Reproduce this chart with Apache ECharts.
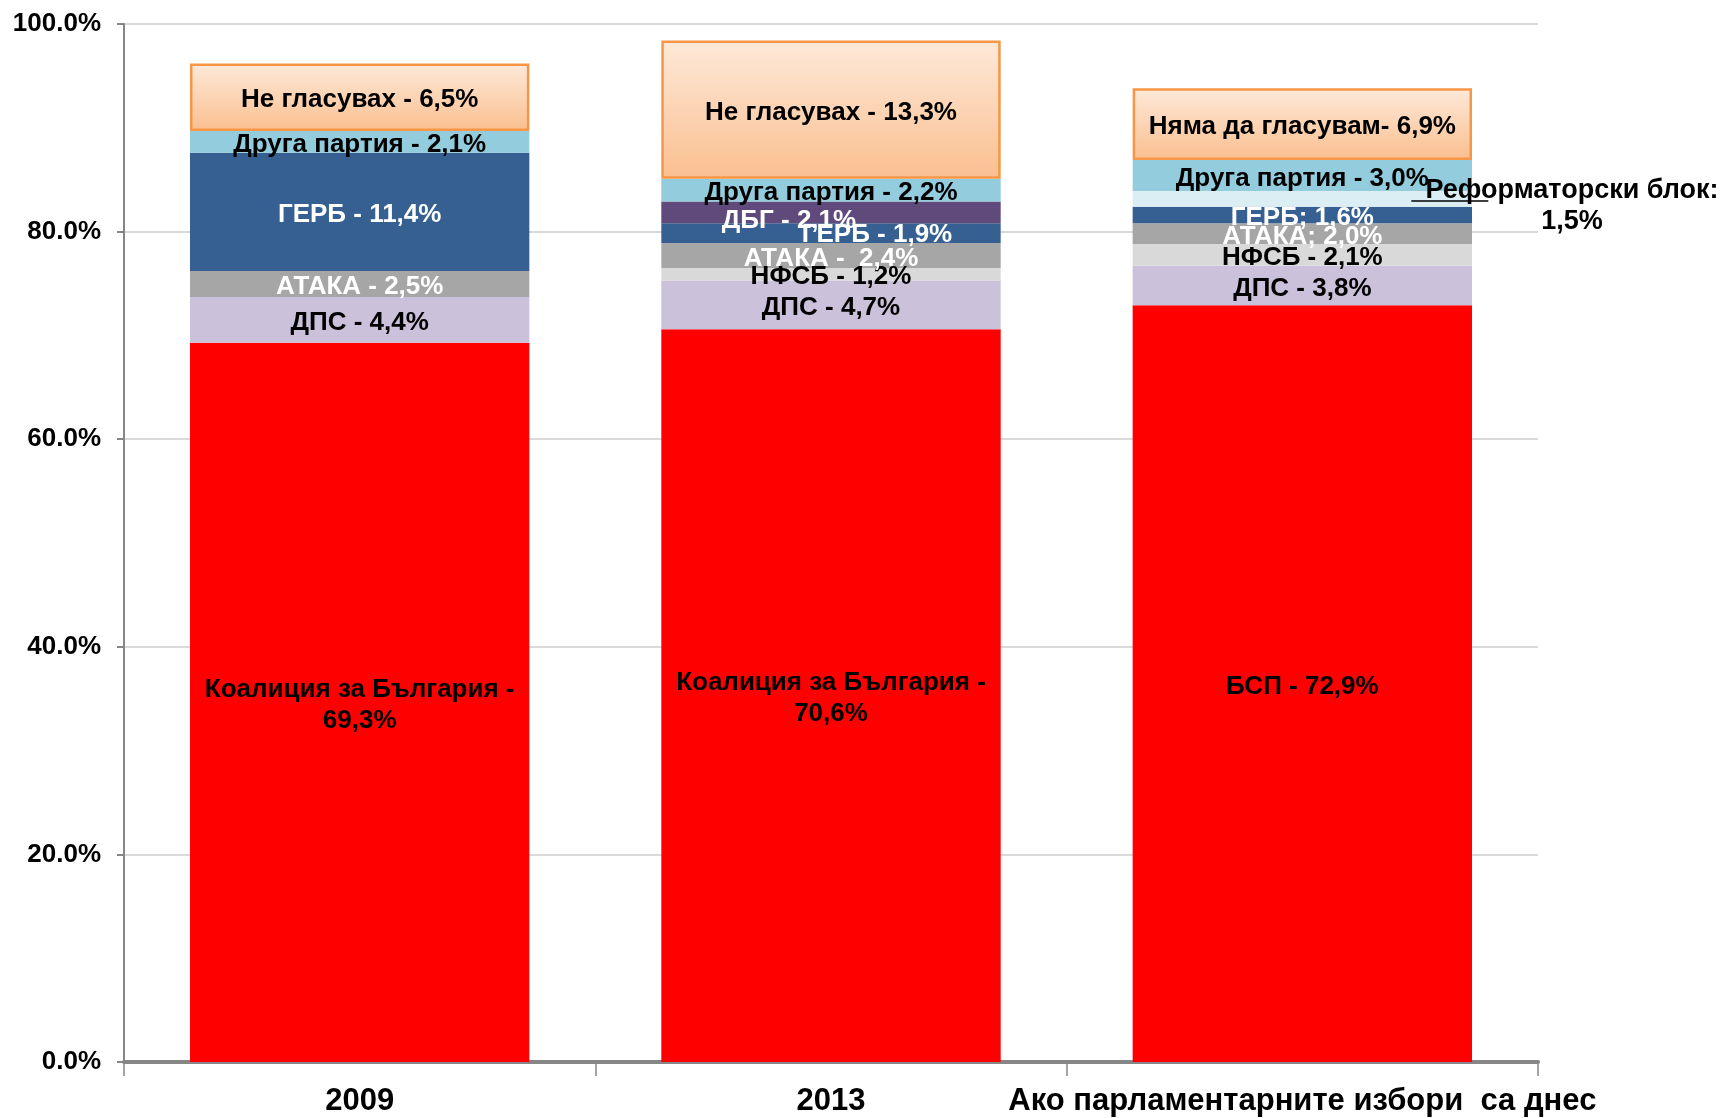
<!DOCTYPE html>
<html>
<head>
<meta charset="utf-8">
<script src="https://cdn.jsdelivr.net/npm/echarts@6/dist/echarts.min.js"></script>
<style>
  html, body { margin: 0; padding: 0; background: #ffffff; }
  #main { width: 1723px; height: 1118px; }
</style>
</head>
<body>
<div id="main"></div>
<script>
var categories = ['2009', '2013', 'Ако парламентарните избори  са днес'];
var yTicks = [0, 20, 40, 60, 80, 100];

// segments, bottom to top
var mainParty = [69.3, 70.6, 72.9];
var dps = [4.4, 4.7, 3.8];
var nfsb = ['-', 1.2, 2.1];
var ataka = [2.5, 2.4, 2.0];
var gerb = [11.4, 1.9, 1.6];
var dbg = ['-', 2.1, '-'];
var reform = ['-', '-', 1.5];
var other = [2.1, 2.2, 3.0];
var noVote = [6.5, 13.3, 6.9];

var mainLabels = ['Коалиция за България -\n69,3%', 'Коалиция за България -\n70,6%', 'БСП - 72,9%'];
var dpsLabels = ['ДПС - 4,4%', 'ДПС - 4,7%', 'ДПС - 3,8%'];
var nfsbLabels = ['', 'НФСБ - 1,2%', 'НФСБ - 2,1%'];
var atakaLabels = ['АТАКА - 2,5%', 'АТАКА -  2,4%', 'АТАКА; 2,0%'];
var gerbLabels = ['ГЕРБ - 11,4%', 'ГЕРБ - 1,9%', 'ГЕРБ; 1,6%'];
var dbgLabels = ['', 'ДБГ - 2,1%', ''];
var reformLabels = ['', '', 'Реформаторски блок:\n1,5%'];
var otherLabels = ['Друга партия - 2,1%', 'Друга партия - 2,2%', 'Друга партия - 3,0%'];
var noVoteLabels = ['Не гласувах - 6,5%', 'Не гласувах - 13,3%', 'Няма да гласувам- 6,9%'];

var FONT = '"Liberation Sans", Arial, sans-serif';

function labelled(values, labels, offsets) {
  return values.map(function (v, i) {
    var item = { value: v };
    var lab = { formatter: labels[i] };
    if (offsets && offsets[i]) lab.offset = offsets[i];
    item.label = lab;
    return item;
  });
}

function seg(name, values, labels, color, textColor, offsets) {
  return {
    name: name,
    type: 'bar',
    stack: 'all',
    barWidth: '72%',
    data: labelled(values, labels, offsets),
    itemStyle: { color: color },
    label: {
      show: true,
      position: 'inside',
      offset: [0, 3],
      color: textColor,
      fontFamily: FONT,
      fontWeight: 'bold',
      fontSize: 26,
      lineHeight: 31
    }
  };
}

var series = [
  seg('main', mainParty, mainLabels, '#ff0000', '#000000'),
  seg('dps', dps, dpsLabels, '#ccc1da', '#000000'),
  seg('nfsb', nfsb, nfsbLabels, '#d9d9d9', '#000000'),
  seg('ataka', ataka, atakaLabels, '#a6a6a6', '#ffffff'),
  seg('gerb', gerb, gerbLabels, '#376092', '#ffffff', [null, [46, 2], null]),
  seg('dbg', dbg, dbgLabels, '#604a7b', '#ffffff', [null, [-42, 8], null]),
  seg('reform', reform, reformLabels, '#dbeef4', '#000000'),
  seg('other', other, otherLabels, '#93cddd', '#000000'),
  seg('novote', noVote, noVoteLabels, {
    type: 'linear', x: 0, y: 0, x2: 0, y2: 1,
    colorStops: [{ offset: 0, color: '#fde9d9' }, { offset: 1, color: '#fabf8f' }]
  }, '#000000')
];

// Реформаторски блок label sits outside the bar
series[6].label.fontSize = 27;
series[6].labelLayout = { x: 1572, y: 206, align: 'center', verticalAlign: 'middle' };
series[8].itemStyle.borderColor = '#f79646';
series[8].itemStyle.borderWidth = 2.5;

var chart = echarts.init(document.getElementById('main'));
chart.setOption({
  animation: false,
  backgroundColor: '#ffffff',
  grid: { left: 124, right: 185, top: 24, bottom: 56, containLabel: false },
  xAxis: {
    type: 'category',
    data: categories,
    axisLine: { lineStyle: { color: '#868686', width: 4 } },
    axisTick: { show: true, interval: 0, length: 14, lineStyle: { color: '#868686', width: 1.5 } },
    axisLabel: {
      interval: 0, hideOverlap: false,
      color: '#000000', fontFamily: FONT, fontWeight: 'bold', fontSize: 31, margin: 24
    }
  },
  yAxis: {
    type: 'value',
    min: yTicks[0],
    max: yTicks[yTicks.length - 1],
    interval: 20,
    axisLine: { show: true, lineStyle: { color: '#868686', width: 2 } },
    axisTick: { show: true, length: 7, lineStyle: { color: '#868686', width: 2 } },
    splitLine: { lineStyle: { color: '#d9d9d9', width: 2 } },
    axisLabel: {
      color: '#000000', fontFamily: FONT, fontWeight: 'bold', fontSize: 26, margin: 23,
      formatter: function (v) { return v.toFixed(1) + '%'; }
    }
  },
  series: series
});

// leader line for the Реформаторски блок label, anchored on its segment
var reformMid = mainParty[2] + dps[2] + nfsb[2] + ataka[2] + gerb[2] + reform[2] / 2;
var anchor = chart.convertToPixel({ gridIndex: 0 }, [2, reformMid]);
chart.setOption({
  graphic: [{
    type: 'line',
    z: 100,
    shape: { x1: anchor[0] + 109, y1: anchor[1] + 2, x2: anchor[0] + 186, y2: anchor[1] + 2 },
    style: { stroke: '#000000', lineWidth: 1.5 }
  }]
});
</script>
</body>
</html>
